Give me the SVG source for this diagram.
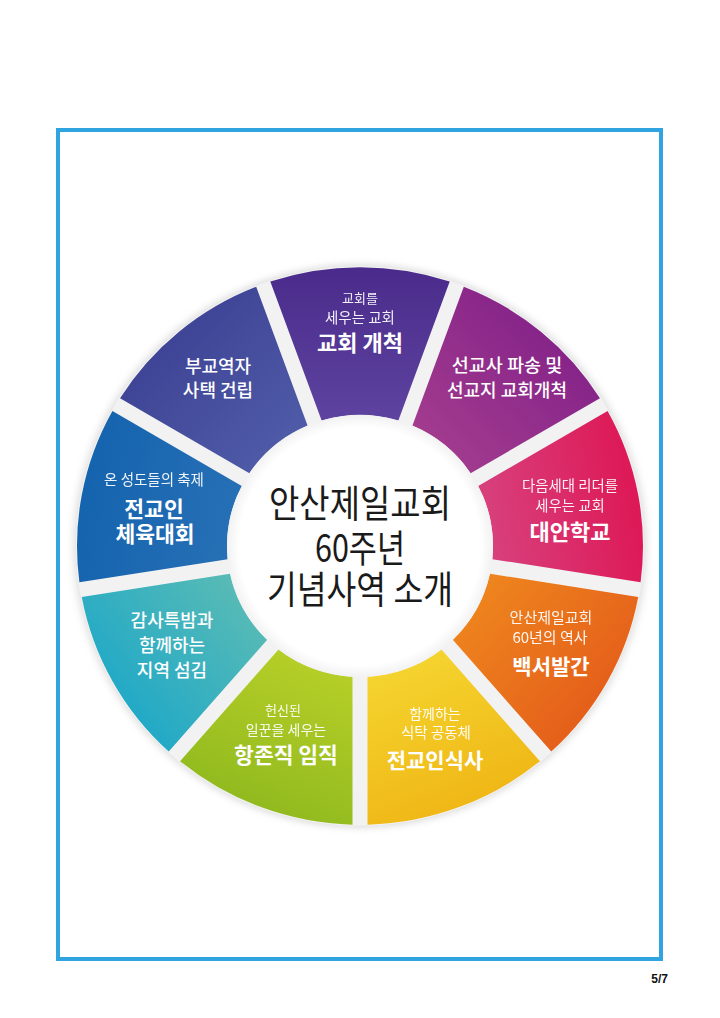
<svg xmlns="http://www.w3.org/2000/svg" width="720" height="1018" viewBox="0 0 720 1018">
<style>
.lbl{font-family:"Noto Sans CJK KR","Noto Sans",sans-serif;fill:#fff;text-anchor:middle}
.sm{font-weight:400;opacity:.93}
.md{font-weight:500}
.bd{font-weight:700}
.ctr{font-family:"Noto Sans CJK KR","Noto Sans",sans-serif;font-weight:400;font-size:38px;fill:#1a1a1a;text-anchor:middle}
</style>
<defs>
<filter id="blur" x="-10%" y="-10%" width="120%" height="120%"><feGaussianBlur stdDeviation="4"/></filter>
<radialGradient id="disc" cx="0" cy="0" r="134" gradientUnits="userSpaceOnUse">
<stop offset="0" stop-color="#ffffff"/><stop offset="0.9" stop-color="#ffffff"/><stop offset="1" stop-color="#f1f1f1"/>
</radialGradient>
<linearGradient id="g1" x1=".5" y1="1" x2=".5" y2="0"><stop offset="0" stop-color="#5e43a0"/><stop offset="1" stop-color="#4a2b8b"/></linearGradient>
<linearGradient id="g2" x1="0" y1="1" x2="1" y2="0"><stop offset="0" stop-color="#a8408f"/><stop offset="1" stop-color="#7a1a87"/></linearGradient>
<linearGradient id="g3" x1="0" y1=".6" x2="1" y2=".4"><stop offset="0" stop-color="#d7427e"/><stop offset="1" stop-color="#de1654"/></linearGradient>
<linearGradient id="g4" x1="0" y1="0" x2="1" y2=".8"><stop offset="0" stop-color="#f08c1e"/><stop offset="1" stop-color="#e2561a"/></linearGradient>
<linearGradient id="g5" x1=".2" y1="0" x2=".6" y2="1"><stop offset="0" stop-color="#f5d630"/><stop offset="1" stop-color="#efb414"/></linearGradient>
<linearGradient id="g6" x1=".8" y1="0" x2=".4" y2="1"><stop offset="0" stop-color="#b9d028"/><stop offset="1" stop-color="#8db81e"/></linearGradient>
<linearGradient id="g7" x1="1" y1="0" x2="0" y2=".8"><stop offset="0" stop-color="#62beb2"/><stop offset="1" stop-color="#15a5cb"/></linearGradient>
<linearGradient id="g8" x1="1" y1=".6" x2="0" y2=".4"><stop offset="0" stop-color="#2770b6"/><stop offset="1" stop-color="#1463ae"/></linearGradient>
<linearGradient id="g9" x1="1" y1="1" x2="0" y2="0"><stop offset="0" stop-color="#5260ab"/><stop offset="1" stop-color="#383a8e"/></linearGradient>
</defs>
<rect width="720" height="1018" fill="#ffffff"/>
<rect id="frame" x="58" y="130" width="603" height="829" fill="none" stroke="#2fa4e0" stroke-width="4"/>
<g id="wheel" transform="translate(360,546) scale(1,0.985)">
<circle r="286" fill="#dcdcdc" filter="url(#blur)"/>
<circle r="284" fill="#f2f2f2"/>
<g id="seg-church-planting"><path d="M -89.71 -268.41 A 283 283 0 0 1 89.71 -268.41 L 38.37 -127.35 A 133 133 0 0 0 -38.37 -127.35 Z" fill="url(#g1)"/></g>
<g id="seg-mission"><path d="M 103.81 -263.27 A 283 283 0 0 1 239.95 -150.05 L 110.61 -73.86 A 133 133 0 0 0 52.46 -122.21 Z" fill="url(#g2)"/></g>
<g id="seg-school"><path d="M 247.56 -137.12 A 283 283 0 0 1 280.59 36.85 L 132.33 13.36 A 133 133 0 0 0 118.22 -60.93 Z" fill="url(#g3)"/></g>
<g id="seg-whitepaper"><path d="M 278.24 51.66 A 283 283 0 0 1 191.26 208.59 L 92.78 95.30 A 133 133 0 0 0 129.98 28.18 Z" fill="url(#g4)"/></g>
<g id="seg-meal"><path d="M 179.94 218.43 A 283 283 0 0 1 7.50 282.90 L 7.50 132.79 A 133 133 0 0 0 81.46 105.14 Z" fill="url(#g5)"/></g>
<g id="seg-ordination"><path d="M -179.94 218.43 A 283 283 0 0 0 -7.50 282.90 L -7.50 132.79 A 133 133 0 0 1 -81.46 105.14 Z" fill="url(#g6)"/></g>
<g id="seg-service"><path d="M -278.24 51.66 A 283 283 0 0 0 -191.26 208.59 L -92.78 95.30 A 133 133 0 0 1 -129.98 28.18 Z" fill="url(#g7)"/></g>
<g id="seg-sports"><path d="M -247.56 -137.12 A 283 283 0 0 0 -280.59 36.85 L -132.33 13.36 A 133 133 0 0 1 -118.22 -60.93 Z" fill="url(#g8)"/></g>
<g id="seg-housing"><path d="M -103.81 -263.27 A 283 283 0 0 0 -239.95 -150.05 L -110.61 -73.86 A 133 133 0 0 1 -52.46 -122.21 Z" fill="url(#g9)"/></g>
<circle id="center-disc" r="133" fill="url(#disc)"/>
</g>
<g id="connectors"/>
<g id="center-label">
<text class="ctr" x="360" y="517" textLength="182" lengthAdjust="spacingAndGlyphs">안산제일교회</text>
<text class="ctr" x="360" y="562" textLength="90" lengthAdjust="spacingAndGlyphs">60주년</text>
<text class="ctr" x="360" y="603" textLength="186" lengthAdjust="spacingAndGlyphs">기념사역 소개</text>
</g>
<g id="label-church-planting">
<text class="lbl sm" x="360" y="303" font-size="13">교회를</text>
<text class="lbl sm" x="360" y="323" font-size="14.5">세우는 교회</text>
<text class="lbl bd" x="360" y="351" font-size="22">교회 개척</text>
</g>
<g id="label-mission">
<text class="lbl md" x="507" y="372" font-size="18.5">선교사 파송 및</text>
<text class="lbl md" x="507" y="397" font-size="18">선교지 교회개척</text>
</g>
<g id="label-school">
<text class="lbl sm" x="570" y="491" font-size="14.4">다음세대 리더를</text>
<text class="lbl sm" x="570" y="511" font-size="14.4">세우는 교회</text>
<text class="lbl bd" x="570" y="540" font-size="22">대안학교</text>
</g>
<g id="label-whitepaper">
<text class="lbl sm" x="551" y="623" font-size="15">안산제일교회</text>
<text class="lbl sm" x="550" y="643" font-size="15">60년의 역사</text>
<text class="lbl bd" x="551" y="674" font-size="21">백서발간</text>
</g>
<g id="label-meal">
<text class="lbl sm" x="435" y="719" font-size="14">함께하는</text>
<text class="lbl sm" x="436" y="738" font-size="14.5">식탁 공동체</text>
<text class="lbl bd" x="435" y="768" font-size="21">전교인식사</text>
</g>
<g id="label-ordination">
<text class="lbl sm" x="283" y="715" font-size="13">헌신된</text>
<text class="lbl sm" x="286" y="735" font-size="14">일꾼을 세우는</text>
<text class="lbl bd" x="286" y="763" font-size="21.5">항존직 임직</text>
</g>
<g id="label-service">
<text class="lbl md" x="172" y="627" font-size="18">감사특밤과</text>
<text class="lbl md" x="172" y="652" font-size="18">함께하는</text>
<text class="lbl md" x="172" y="677" font-size="18">지역 섬김</text>
</g>
<g id="label-sports">
<text class="lbl sm" x="154" y="485" font-size="14.5">온 성도들의 축제</text>
<text class="lbl bd" x="154" y="517" font-size="21.5">전교인</text>
<text class="lbl bd" x="155" y="542" font-size="21.5">체육대회</text>
</g>
<g id="label-housing">
<text class="lbl md" x="218" y="373" font-size="18">부교역자</text>
<text class="lbl md" x="218" y="397" font-size="18">사택 건립</text>
</g>
<text id="page-number" x="668" y="983" font-family="Liberation Sans, Arial, sans-serif" font-weight="700" font-size="12" text-anchor="end" fill="#111">5/7</text>
</svg>
